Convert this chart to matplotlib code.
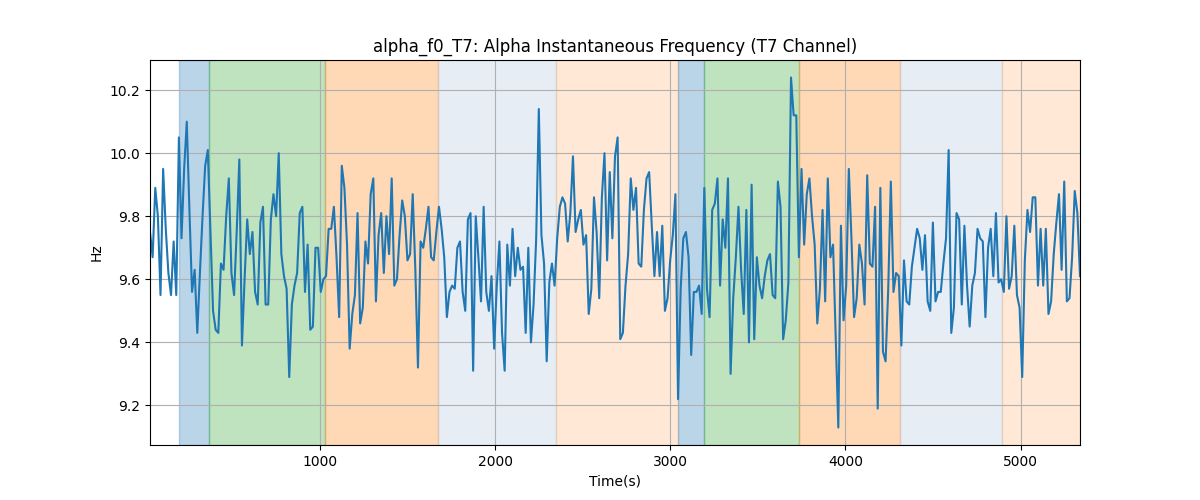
import numpy as np
import matplotlib
matplotlib.use("Agg")
import matplotlib.pyplot as plt

# sampling of the signal (seconds)
t_start = 29
t_step = 15

# alpha instantaneous frequency, Hz
freq_hz = [
    9.75, 9.67, 9.89, 9.80, 9.55, 9.95, 9.76, 9.62, 9.55, 9.72,
    9.55, 10.05, 9.73, 9.95, 10.10, 9.82, 9.56, 9.63, 9.43, 9.62,
    9.80, 9.96, 10.01, 9.75, 9.50, 9.44, 9.43, 9.65, 9.63, 9.80,
    9.92, 9.62, 9.55, 9.75, 9.98, 9.39, 9.60, 9.79, 9.68, 9.75,
    9.56, 9.52, 9.78, 9.83, 9.52,
    9.52, 9.79, 9.87, 9.80, 10.00, 9.68, 9.61, 9.57, 9.29, 9.52,
    9.58, 9.62, 9.81, 9.83, 9.56, 9.71, 9.44, 9.45, 9.70, 9.70,
    9.56, 9.60, 9.61, 9.76, 9.76, 9.83, 9.67, 9.48, 9.96, 9.89,
    9.71, 9.38, 9.49, 9.55, 9.81, 9.46, 9.51, 9.72, 9.65, 9.87,
    9.92, 9.53, 9.74, 9.81,
    9.62, 9.80, 9.68, 9.92, 9.58, 9.60, 9.74, 9.85, 9.80, 9.66,
    9.68, 9.87, 9.63, 9.32, 9.72, 9.70, 9.76, 9.83, 9.67, 9.66,
    9.75, 9.83, 9.76, 9.67, 9.48, 9.56, 9.58, 9.57, 9.70, 9.72,
    9.56, 9.50, 9.79, 9.81, 9.31, 9.80, 9.67, 9.53, 9.83, 9.56,
    9.50, 9.61, 9.38, 9.58,
    9.72, 9.43, 9.31, 9.71, 9.58, 9.76, 9.61, 9.70, 9.63, 9.64,
    9.43, 9.70, 9.40, 9.52, 9.73, 10.14, 9.74, 9.65, 9.34, 9.59,
    9.65, 9.58, 9.73, 9.83, 9.86, 9.84, 9.72, 9.81, 9.99, 9.75,
    9.79, 9.82, 9.71, 9.74, 9.49, 9.57, 9.86, 9.75, 9.54, 9.86,
    10.00, 9.66, 9.94, 9.73, 9.99,
    10.05, 9.41, 9.43, 9.58, 9.68, 9.92, 9.82, 9.89, 9.65, 9.64,
    9.82, 9.92, 9.94, 9.77, 9.61, 9.75, 9.61, 9.77, 9.50, 9.54,
    9.66, 9.74, 9.87, 9.22, 9.57, 9.73, 9.75, 9.67, 9.36, 9.56,
    9.56, 9.58, 9.49, 9.89, 9.57, 9.48, 9.82, 9.84, 9.92, 9.58,
    9.79, 9.70, 9.92, 9.30,
    9.54, 9.67, 9.83, 9.63, 9.49, 9.82, 9.40, 9.90, 9.41, 9.67,
    9.58, 9.54, 9.61, 9.66, 9.68, 9.55, 9.54, 9.91, 9.83, 9.41,
    9.47, 9.59, 10.24, 10.12, 10.12, 9.67, 9.95, 9.71, 9.87, 9.92,
    9.80, 9.71, 9.46, 9.57, 9.82, 9.53, 9.92, 9.67, 9.71, 9.42,
    9.13, 9.77, 9.47, 9.58,
    9.95, 9.73, 9.48, 9.54, 9.71, 9.65, 9.52, 9.93, 9.65, 9.64,
    9.83, 9.19, 9.89, 9.37, 9.34, 9.57, 9.91, 9.56, 9.62, 9.61,
    9.39, 9.66, 9.53, 9.52, 9.64, 9.70, 9.76, 9.73, 9.63, 9.74,
    9.53, 9.50, 9.78, 9.53, 9.56, 9.56, 9.65, 9.73, 10.01, 9.43,
    9.51, 9.81, 9.79, 9.52,
    9.77, 9.58, 9.45, 9.58, 9.62, 9.76, 9.73, 9.72, 9.48, 9.70,
    9.76, 9.61, 9.81, 9.59, 9.60, 9.56, 9.80, 9.57, 9.61, 9.77,
    9.55, 9.51, 9.29, 9.66, 9.82, 9.75, 9.86, 9.86, 9.58, 9.76,
    9.58, 9.76, 9.49, 9.53, 9.68, 9.78, 9.87, 9.63, 9.91, 9.53,
    9.54, 9.67, 9.88, 9.81, 9.61,
]

# shaded segments: start, end, colour, alpha
span_starts = [194, 367, 1029, 1671, 2345, 3042, 3190, 3735, 4310, 4892]
span_ends = [367, 1029, 1671, 2345, 3042, 3190, 3735, 4310, 4892, 5340]
span_colors = ["C0", "C2", "C1", "lightsteelblue", "C1",
               "C0", "C2", "C1", "lightsteelblue", "C1"]
span_alphas = [0.3, 0.3, 0.3, 0.3, 0.17, 0.3, 0.3, 0.3, 0.3, 0.17]

t = t_start + t_step * np.arange(len(freq_hz))

fig, ax = plt.subplots(figsize=(12, 5), dpi=100)
for s, e, c, a in zip(span_starts, span_ends, span_colors, span_alphas):
    ax.axvspan(s, min(e, t[-1]), color=c, alpha=a)
ax.plot(t, freq_hz, color="C0", linewidth=1.5)
ax.set_xlim(t[0], t[-1])
ax.set_title("alpha_f0_T7: Alpha Instantaneous Frequency (T7 Channel)")
ax.set_xlabel("Time(s)")
ax.set_ylabel("Hz")
ax.grid(True)

fig.savefig("out.png", dpi=100)
